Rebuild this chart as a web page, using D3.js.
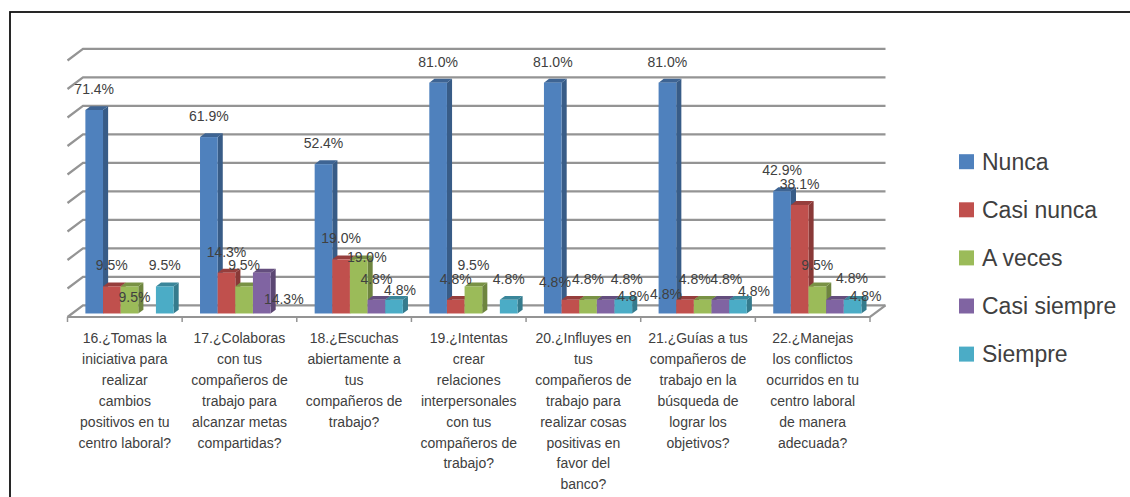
<!DOCTYPE html>
<html>
<head>
<meta charset="utf-8">
<script src="https://cdn.jsdelivr.net/npm/d3@7"></script>
<style>
  html, body { margin: 0; padding: 0; background: #fff; }
  svg { display: block; }
  text { font-family: "Liberation Sans", Arial, sans-serif; fill: #404040; }
</style>
</head>
<body>
<svg id="chart" width="1130" height="497"></svg>
<script>
// Survey questions (line breaks as shown under the axis)
const categories = [
  "16.¿Tomas la\niniciativa para\nrealizar\ncambios\npositivos en tu\ncentro laboral?",
  "17.¿Colaboras\ncon tus\ncompañeros de\ntrabajo para\nalcanzar metas\ncompartidas?",
  "18.¿Escuchas\nabiertamente a\ntus\ncompañeros de\ntrabajo?",
  "19.¿Intentas\ncrear\nrelaciones\ninterpersonales\ncon tus\ncompañeros de\ntrabajo?",
  "20.¿Influyes en\ntus\ncompañeros de\ntrabajo para\nrealizar cosas\npositivas en\nfavor del\nbanco?",
  "21.¿Guías a tus\ncompañeros de\ntrabajo en la\nbúsqueda de\nlograr los\nobjetivos?",
  "22.¿Manejas\nlos conflictos\nocurridos en tu\ncentro laboral\nde manera\nadecuada?"
];

const seriesNames = ["Nunca", "Casi nunca", "A veces", "Casi siempre", "Siempre"];

// Percent of answers per question (null = no answers)
const nunca       = [71.4, 61.9, 52.4, 81.0, 81.0, 81.0, 42.9];
const casiNunca   = [9.5, 14.3, 19.0, 4.8, 4.8, 4.8, 38.1];
const aVeces      = [9.5, 9.5, 19.0, 9.5, 4.8, 4.8, 9.5];
const casiSiempre = [null, 14.3, 4.8, null, 4.8, 4.8, 4.8];
const siempre     = [9.5, null, 4.8, 4.8, 4.8, 4.8, 4.8];

const seriesValues = [nunca, casiNunca, aVeces, casiSiempre, siempre];

// Value axis: gridlines every 10 points up to 90
const valueMax = 90;
const gridStep = 10;

const colors = ["#4F81BD", "#C0504D", "#9BBB59", "#8064A2", "#4BACC6"];

// Hand-placed data labels: offsets [dx, dy] from the default spot above each bar,
// keyed "question,series"
const labelNudge = {
  "0,2": [5, 32],
  "1,3": [22, 47],
  "2,2": [8, 19],
  "2,4": [6, 11],
  "4,1": [-15.5, 3],
  "4,3": [21, 0],
  "4,4": [10, 17],
  "5,1": [-19, 15.5],
  "5,2": [-8, 0.5],
  "5,3": [6, 0.5],
  "5,4": [16, 12.5],
  "6,3": [17, -1],
  "6,4": [13, 17]
};

// ---- layout -------------------------------------------------------------
const svg = d3.select("#chart");

// chart frame
svg.append("rect")
  .attr("x", 10).attr("y", 12)
  .attr("width", 1140).attr("height", 520)
  .attr("fill", "none").attr("stroke", "#111").attr("stroke-width", 1.8);

// front plane scales
const x = d3.scaleBand().domain(d3.range(categories.length)).range([67.5, 870]);
const xs = d3.scaleBand().domain(d3.range(seriesNames.length))
  .range([0, x.bandwidth()]).paddingInner(0).paddingOuter(0.75);
const y = d3.scaleLinear().domain([0, valueMax]).range([317, 317 - 2.85 * valueMax]);

// oblique depth projection
const DX = 15.5, DY = 11.7;
const P = (px, v, d) => [px + DX * d, y(v) - DY * d];

const xLeft = x.range()[0], xRight = x.range()[1];
const gridVals = d3.range(0, valueMax + 1, gridStep);

// back wall gridlines + left wall diagonals
const grid = svg.append("g")
  .attr("fill", "none").attr("stroke", "#949494").attr("stroke-width", 2.2);
grid.selectAll("path.grid").data(gridVals).join("path")
  .attr("class", "grid")
  .attr("d", v => {
    const a = P(xLeft, v, 0), b = P(xLeft, v, 1), c = P(xRight, v, 1);
    return `M${a}L${b}L${c}`;
  });

// floor edges
const f1 = P(xLeft, 0, 0), f2 = P(xRight, 0, 0), f3 = P(xRight, 0, 1);
grid.append("path").attr("d", `M${f1}L${f2}L${f3}`);

// category tick marks on the floor front edge
grid.selectAll("line.tick").data(d3.range(categories.length + 1)).join("line")
  .attr("class", "tick")
  .attr("x1", i => xLeft + i * x.step()).attr("x2", i => xLeft + i * x.step())
  .attr("y1", y(0)).attr("y2", y(0) + 5)
  .attr("stroke-width", 1.5);

// ---- 3D bars ------------------------------------------------------------
const dFront = 0.3, dBack = 0.63;
const bars = [];
categories.forEach((c, k) => {
  seriesNames.forEach((s, j) => {
    const v = seriesValues[j][k];
    if (v == null) return;
    bars.push({ k, j, v, x0: x(k) + xs(j), w: xs.bandwidth() });
  });
});

const barG = svg.append("g");
bars.forEach(b => {
  const col = d3.color(colors[b.j]);
  const g = barG.append("g");
  const x0 = b.x0, x1 = b.x0 + b.w;
  // side face
  const s = [P(x1, 0, dFront), P(x1, 0, dBack), P(x1, b.v, dBack), P(x1, b.v, dFront)];
  g.append("path").attr("d", "M" + s.join("L") + "Z")
    .attr("fill", col.darker(0.95).formatHex());
  // top face
  const t = [P(x0, b.v, dFront), P(x0, b.v, dBack), P(x1, b.v, dBack), P(x1, b.v, dFront)];
  g.append("path").attr("d", "M" + t.join("L") + "Z")
    .attr("fill", col.darker(0.7).formatHex());
  // front face
  const fp = P(x0, b.v, dFront), fb = P(x1, 0, dFront);
  g.append("rect")
    .attr("x", fp[0]).attr("y", fp[1])
    .attr("width", fb[0] - fp[0]).attr("height", fb[1] - fp[1])
    .attr("fill", col.formatHex());
});

// ---- data labels ----------------------------------------------------------
const fmt = d3.format(".1f");
svg.append("g").selectAll("text").data(bars).join("text")
  .attr("x", b => {
    const n = labelNudge[b.k + "," + b.j] || [0, 0];
    return P(b.x0 + b.w / 2, b.v, dFront)[0] + n[0];
  })
  .attr("y", b => {
    const n = labelNudge[b.k + "," + b.j] || [0, 0];
    return P(b.x0 + b.w / 2, b.v, dFront)[1] - 21 + n[1];
  })
  .attr("dy", "0.36em")
  .attr("text-anchor", "middle")
  .attr("font-size", 14)
  .text(b => fmt(b.v) + "%");

// ---- category labels --------------------------------------------------------
const catG = svg.append("g").attr("font-size", 14).attr("text-anchor", "middle");
categories.forEach((c, k) => {
  const t = catG.append("text")
    .attr("x", x(k) + x.bandwidth() / 2)
    .attr("y", 343);
  c.split("\n").forEach((line, i) => {
    t.append("tspan")
      .attr("x", x(k) + x.bandwidth() / 2)
      .attr("dy", i === 0 ? 0 : 20.9)
      .text(line);
  });
});

// ---- legend -----------------------------------------------------------------
const legend = svg.append("g").attr("transform", "translate(959,161.7)");
const item = legend.selectAll("g").data(seriesNames).join("g")
  .attr("transform", (d, i) => `translate(0,${i * 48.1})`);
item.append("rect")
  .attr("x", 0).attr("y", -7.5).attr("width", 15).attr("height", 15)
  .attr("fill", (d, i) => colors[i]);
item.append("text")
  .attr("x", 23).attr("y", 7.8)
  .attr("font-size", 23)
  .text(d => d);
</script>
</body>
</html>
